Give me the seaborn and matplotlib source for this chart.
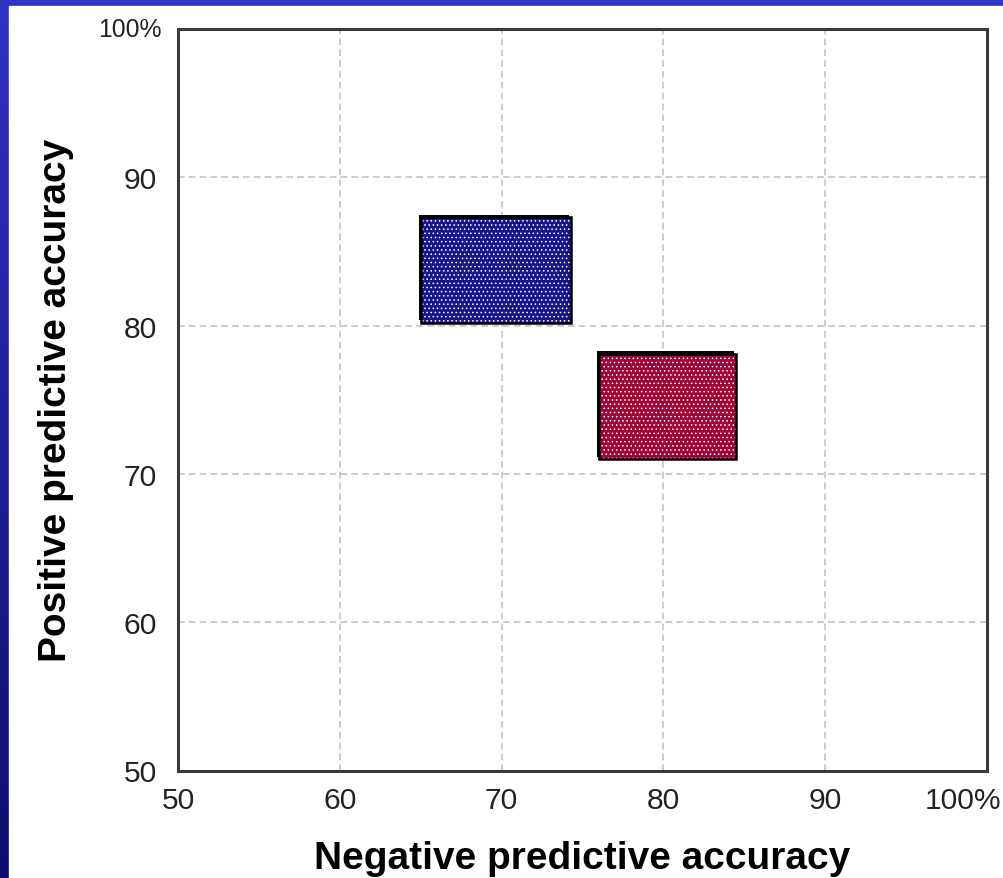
import numpy as np
import pandas as pd
import matplotlib
matplotlib.use("Agg")
import matplotlib.pyplot as plt
from matplotlib.colors import LinearSegmentedColormap
from matplotlib.patches import Rectangle
from matplotlib.transforms import ScaledTranslation
import seaborn as sns

# Ranges of negative / positive predictive accuracy (%) for the two groups
groups = ["Group A", "Group B"]
npa_low = [65.0, 76.0]
npa_high = [74.3, 84.5]
ppa_low = [80.2, 71.0]
ppa_high = [87.3, 78.1]
box_colors = ["#16168a", "#9c0036"]

tick_values = [50, 60, 70, 80, 90, 100]
tick_labels = ["50", "60", "70", "80", "90", "100%"]

df = pd.DataFrame({
    "group": groups,
    "npa_low": npa_low,
    "npa_high": npa_high,
    "ppa_low": ppa_low,
    "ppa_high": ppa_high,
    "color": box_colors,
})

sns.set_theme(style="white")
plt.rcParams["font.family"] = ["Liberation Sans", "DejaVu Sans"]
plt.rcParams["hatch.linewidth"] = 0.6

W, H = 1004, 879
fig = plt.figure(figsize=(W / 100, H / 100), dpi=100, facecolor="white")

# Slide frame: blue gradient band on the left edge and along the top
bg = fig.add_axes([0, 0, 1, 1], zorder=-10)
grad = np.linspace(0, 1, 256)[:, None]
frame_cmap = LinearSegmentedColormap.from_list("frame", ["#3232c4", "#0e0e6e"])
bg.imshow(grad, aspect="auto", cmap=frame_cmap, extent=[0, 1, 0, 1])
bg.add_patch(Rectangle((9 / W, 0), 1, 1 - 6.5 / H, color="white", transform=bg.transAxes))
bg.set_xlim(0, 1)
bg.set_ylim(0, 1)
bg.set_axis_off()

ax = fig.add_axes([178 / W, 1 - 771.5 / H, (987 - 178) / W, (771.5 - 30) / H])
ax.set_facecolor("white")

# drop shadow shifted up and to the left of each box
shadow_shift = ax.transData + ScaledTranslation(-2 / 100, 2.5 / 100, fig.dpi_scale_trans)
for _, row in df.iterrows():
    width = row.npa_high - row.npa_low
    height = row.ppa_high - row.ppa_low
    sh = ax.bar(row.npa_low, height, width=width, bottom=row.ppa_low, align="edge",
                color="black", linewidth=0, zorder=2.9)
    for p in sh.patches:
        p.set_transform(shadow_shift)
    ax.bar(row.npa_low, height, width=width, bottom=row.ppa_low, align="edge",
           color=row.color, edgecolor="white", linewidth=0, hatch="....",
           zorder=3)
    ax.bar(row.npa_low, height, width=width, bottom=row.ppa_low, align="edge",
           fill=False, edgecolor="black", linewidth=1.8, zorder=4)

ax.set_xlim(50, 100)
ax.set_ylim(50, 100)
ax.set_xticks(tick_values)
ax.set_xticklabels(tick_labels[:-1] + [""])
ax.set_yticks(tick_values)
ax.set_yticklabels(tick_labels[:-1] + [""])
ax.tick_params(axis="both", length=0, labelsize=21.6, labelcolor="#222222")
ax.tick_params(axis="x", pad=11)
ax.tick_params(axis="y", pad=15)

# end labels of both axes carry the percent sign
ax.annotate(tick_labels[-1], xy=(0, 100), xycoords=("axes fraction", "data"),
            xytext=(-11.5, 2.0), textcoords="offset points",
            ha="right", va="center_baseline", fontsize=17.8, color="#222222",
            annotation_clip=False)
ax.annotate(tick_labels[-1], xy=(100, 0), xycoords=("data", "axes fraction"),
            xytext=(-44.5, -11), textcoords="offset points",
            ha="left", va="top", fontsize=21.6, color="#222222",
            annotation_clip=False)

ax.grid(True, color="#c4c4c4", linestyle=(0, (4, 2.5)), linewidth=1.2)
ax.set_axisbelow(True)
for s in ax.spines.values():
    s.set_color("#3a3a3a")
    s.set_linewidth(2.2)
    s.set_visible(True)

ax.set_xlabel("Negative predictive accuracy", fontsize=28, fontweight="bold",
              color="black", labelpad=19)
ax.set_ylabel("Positive predictive accuracy", fontsize=28, fontweight="bold",
              color="black", labelpad=36)

fig.savefig("out.png", dpi=100, facecolor="white")
